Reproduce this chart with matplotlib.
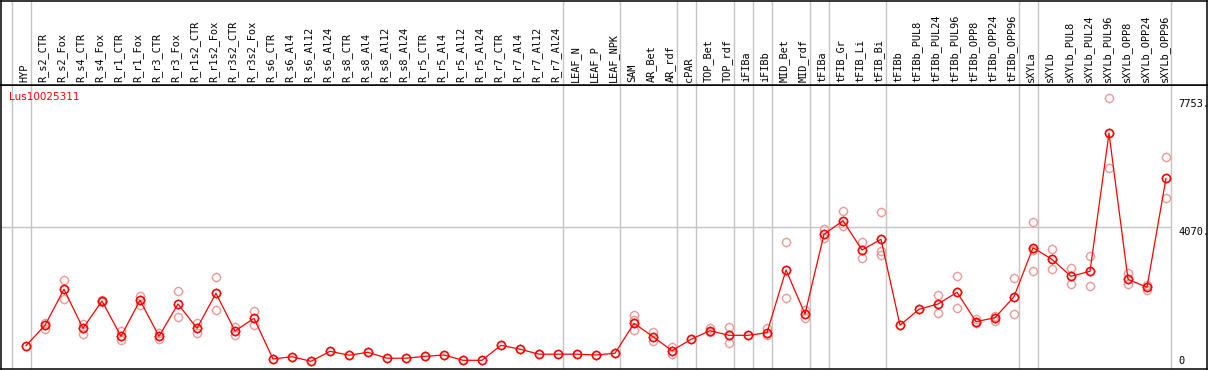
import matplotlib.pyplot as plt
import matplotlib.transforms as mtransforms
from matplotlib.path import Path

gene = 'Lus10025311'

samples = ['HYP', 'R_s2_CTR', 'R_s2_Fox', 'R_s4_CTR', 'R_s4_Fox', 'R_r1_CTR', 'R_r1_Fox',
           'R_r3_CTR', 'R_r3_Fox', 'R_r1s2_CTR', 'R_r1s2_Fox', 'R_r3s2_CTR', 'R_r3s2_Fox',
           'R_s6_CTR', 'R_s6_Al4', 'R_s6_Al12', 'R_s6_Al24', 'R_s8_CTR', 'R_s8_Al4',
           'R_s8_Al12', 'R_s8_Al24', 'R_r5_CTR', 'R_r5_Al4', 'R_r5_Al12', 'R_r5_Al24',
           'R_r7_CTR', 'R_r7_Al4', 'R_r7_Al12', 'R_r7_Al24', 'LEAF_N', 'LEAF_P', 'LEAF_NPK',
           'SAM', 'AR_Bet', 'AR_rdf', 'cPAR', 'TOP_Bet', 'TOP_rdf', 'iFIBa', 'iFIBb',
           'MID_Bet', 'MID_rdf', 'tFIBa', 'tFIB_Gr', 'tFIB_Li', 'tFIB_Bi', 'tFIBb',
           'tFIBb_PUL8', 'tFIBb_PUL24', 'tFIBb_PUL96', 'tFIBb_OPP8', 'tFIBb_OPP24',
           'tFIBb_OPP96', 'sXYLa', 'sXYLb', 'sXYLb_PUL8', 'sXYLb_PUL24', 'sXYLb_PUL96',
           'sXYLb_OPP8', 'sXYLb_OPP24', 'sXYLb_OPP96']

means = [669, 1254, 2287, 1168, 1952, 938, 1972, 938, 1866, 1171, 2173, 1091, 1455,
         287, 353, 221, 508, 396, 479, 310, 310, 364, 402, 250, 250, 680, 568, 425, 425,
         425, 402, 453, 1312, 927, 525, 852, 1099, 967, 967, 1042, 2841, 1579, 3866,
         4256, 3415, 3722, 1257, 1713, 1866, 2201, 1358, 1472, 2075, 3481, 3148, 2660,
         2804, 6765, 2574, 2345, 5473]

# single replicates that show apart from the mean
rep_idx = [1, 1, 2, 2, 3, 3, 4, 4, 5, 5, 6, 6, 7, 7, 8, 8, 9, 9, 10, 10, 11, 11, 12, 12,
           32, 32, 32, 33, 33, 34, 34, 36, 36, 37, 37, 39, 39, 40, 40, 41, 41, 42, 42,
           43, 43, 44, 44, 45, 45, 45, 48, 48, 49, 49, 50, 50, 51, 51, 52, 52,
           53, 53, 53, 54, 54, 55, 55, 56, 56, 57, 57, 58, 58, 59, 59, 60, 60]
rep_val = [1329, 1157, 2546, 2000, 1300, 1013, 1980, 1923, 1091, 832, 2086, 1837, 1025, 852,
           2230, 1484, 1329, 1042, 2632, 1685, 1197, 967, 1656, 1254,
           1541, 1119, 1406, 1071, 812, 640, 422, 1177, 1071, 1205, 738, 1168, 976,
           3636, 2029, 1455, 1693, 4009, 3751, 4535, 4104, 3636, 3177, 4497, 3387, 3272,
           2124, 1599, 2669, 1742, 1426, 1312, 1530, 1386, 2620, 1570,
           4210, 2804, 3415, 3435, 2879, 2890, 2431, 3234, 2373, 7769, 5760, 2764, 2440,
           2419, 2267, 6076, 4899]

group_ends = [-1, 0, 28, 31, 34, 35, 37, 38, 39, 41, 42, 45, 52, 53, 60]
mid_label = 4070
max_label = 7753

# four little ticks round the circle, like the original applet marker
verts, codes = [], []
for (p, q) in [((0, 1), (0, 1.3)), ((0, -1), (0, -1.3)),
               ((1, 0), (1.3, 0)), ((-1, 0), (-1.3, 0))]:
    verts += [p, q]
    codes += [Path.MOVETO, Path.LINETO]
tick_mk = Path(verts, codes)

W, H = 1209, 370
fig = plt.figure(figsize=(W / 100, H / 100), dpi=100)
xl = ((1 - 26) / 19., (1207 - 26) / 19.)

ax = fig.add_axes([1 / W, 1 / H, 1206 / W, 284 / H])
hx = fig.add_axes([1 / W, 285 / H, 1206 / W, 84.5 / H])

for a in (ax, hx):
    a.set_xlim(*xl)
    a.set_xticks([])
    a.set_yticks([])
    for s in a.spines.values():
        s.set_color('black')
        s.set_linewidth(1.1)
    for b in group_ends:
        a.axvline(b + 0.25, color='#c4c4c4', lw=1.0, zorder=0)

ax.set_ylim(0, 284 * 28.7)
hx.set_ylim(0, 1)

ax.hlines(mid_label, xl[0], group_ends[-1] + 0.25, color='#c4c4c4', lw=1.0, zorder=0)

x = list(range(len(samples)))
ax.plot(rep_idx, rep_val, linestyle='none', marker='o', ms=5.8, mfc='none',
        mec='#ee9a9a', mew=1.0, zorder=2)
ax.plot(rep_idx, rep_val, linestyle='none', marker=tick_mk, ms=7.6, mfc='none',
        mec='#ee9a9a', mew=0.6, zorder=2)
ax.plot(x, means, color='red', lw=0.9, zorder=3)
ax.plot(x, means, linestyle='none', marker='o', ms=5.8, mfc='none',
        mec='red', mew=1.2, zorder=4)
ax.plot(x, means, linestyle='none', marker=tick_mk, ms=7.6, mfc='none',
        mec='red', mew=0.6, zorder=4)

tr = mtransforms.blended_transform_factory(hx.transData, hx.transAxes)
for i, name in enumerate(samples):
    hx.text(i - 0.1, 0.03, name, rotation=90, ha='center', va='bottom',
            fontsize=7.4, family='DejaVu Sans Mono', transform=tr)

ax.text(60.63, mid_label, '4070.', ha='left', va='top', fontsize=7.5,
        family='DejaVu Sans Mono')
ax.text(60.63, max_label, '7753.', ha='left', va='top', fontsize=7.5,
        family='DejaVu Sans Mono')
ax.text(60.63, 100, '0', ha='left', va='bottom', fontsize=7.5,
        family='DejaVu Sans Mono')

fig.text(9 / W, 1 - 96.5 / H, gene, color='red', ha='left', va='center', fontsize=7.5)

fig.savefig('out.png', dpi=100)
